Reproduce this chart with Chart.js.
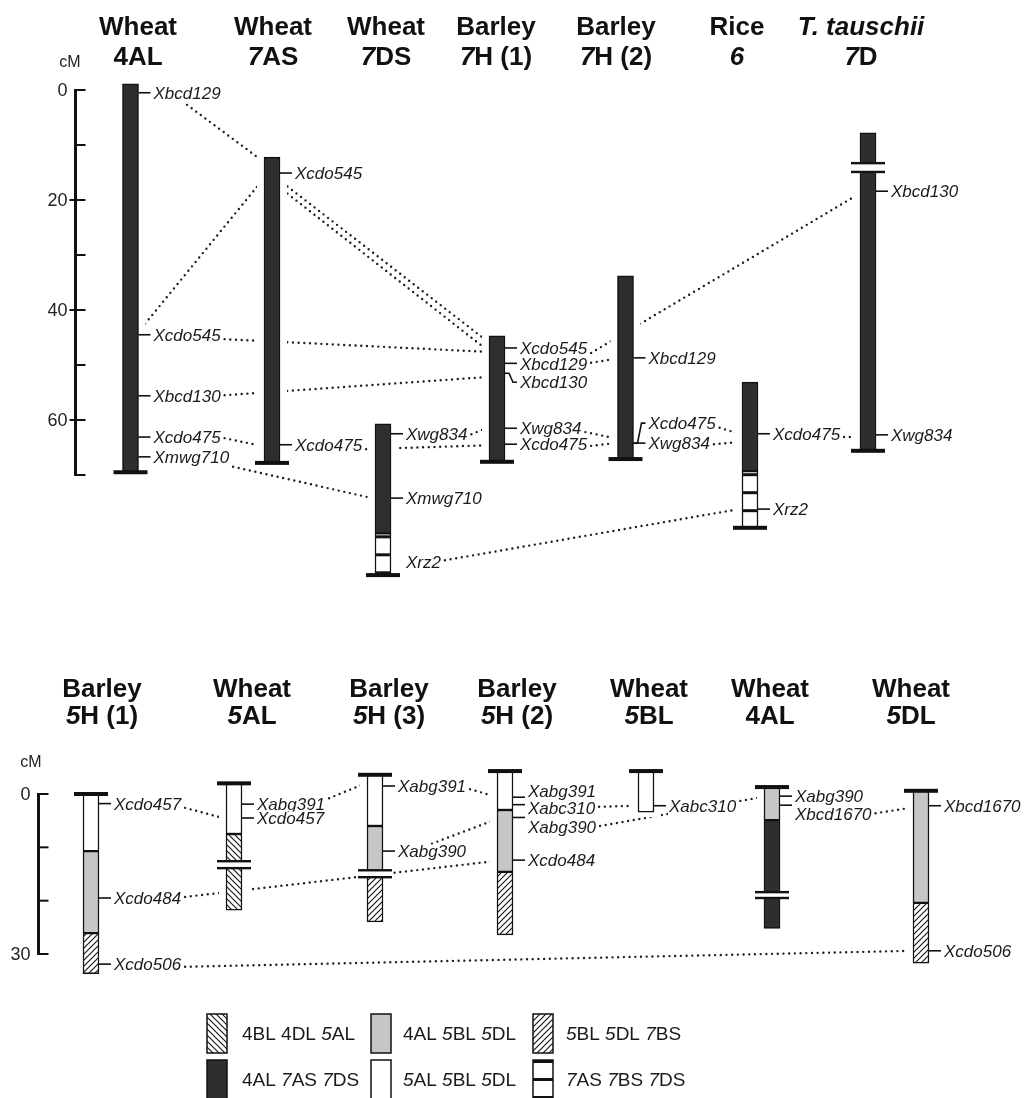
<!DOCTYPE html>
<html><head><meta charset="utf-8">
<script src="https://cdn.jsdelivr.net/npm/chart.js@4.4.1/dist/chart.umd.min.js"></script>
<style>html,body{margin:0;padding:0;background:#fff;overflow:hidden}#wrap{position:relative;width:1027px;height:1098px}</style>
</head><body><div id="wrap"><canvas id="c"></canvas></div>
<script>
// ================= DATA =================
const topTitles1 = ['Wheat','Wheat','Wheat','Barley','Barley','Rice','*T. tauschii*'];
const topTitles2 = ['4AL','*7*AS','*7*DS','*7*H (1)','*7*H (2)','*6*','*7*D'];
const botTitles1 = ['Barley','Wheat','Barley','Barley','Wheat','Wheat','Wheat'];
const botTitles2 = ['*5*H (1)','*5*AL','*5*H (3)','*5*H (2)','*5*BL','4AL','*5*DL'];

// segment types: D=4AL 7AS 7DS, G=4AL 5BL 5DL, W=5AL 5BL 5DL, B=4BL 4DL 5AL, F=5BL 5DL 7BS, S=7AS 7BS 7DS
const topSegments = [
  [[-1.1,69.5,'D']],
  [[12.2,67.8,'D']],
  [[60.7,80.6,'D'],[80.6,88.2,'S']],
  [[44.7,67.6,'D']],
  [[33.8,67.1,'D']],
  [[53.1,69.3,'D'],[69.3,79.6,'S']],
  [[7.8,65.6,'D']]
];
const botSegments = [
  [[0,10.7,'W'],[10.7,26.1,'G'],[26.1,33.7,'F']],
  [[-2.0,7.5,'W'],[7.5,21.8,'B']],
  [[-3.6,6.0,'W'],[6.0,15.0,'G'],[15.0,24.0,'F']],
  [[-4.3,3.0,'W'],[3.0,14.6,'G'],[14.6,26.4,'F']],
  [[-4.3,3.4,'W']],
  [[-1.3,4.9,'G'],[4.9,25.2,'D']],
  [[-0.6,20.4,'G'],[20.4,31.7,'F']]
];
const topBreaks = [null,null,null,null,null,null,[13.3,14.9]];
const botBreaks = [null,[12.6,13.9],[14.3,15.6],null,null,[18.4,19.5],null];

const topMarkerNames = [
  ['Xbcd129','Xcdo545','Xbcd130','Xcdo475','Xmwg710'],
  ['Xcdo545','Xcdo475'],
  ['Xwg834','Xmwg710','Xrz2'],
  ['Xcdo545','Xbcd129','Xbcd130','Xwg834','Xcdo475'],
  ['Xbcd129','Xcdo475','Xwg834'],
  ['Xcdo475','Xrz2'],
  ['Xbcd130','Xwg834']
];
const topMarkerCM = [
  [0.5,44.5,55.6,63.1,66.7],
  [15.1,64.5],
  [62.5,74.2,85.8],
  [46.9,49.7,51.5,61.5,64.4],
  [48.7,64.2,64.2],
  [62.5,76.2],
  [18.4,62.7]
];
const botMarkerNames = [
  ['Xcdo457','Xcdo484','Xcdo506'],
  ['Xabg391','Xcdo457'],
  ['Xabg391','Xabg390'],
  ['Xabg391','Xabc310','Xabg390','Xcdo484'],
  ['Xabc310'],
  ['Xabg390','Xbcd1670'],
  ['Xbcd1670','Xcdo506']
];
const botMarkerCM = [
  [1.8,19.5,31.9],
  [1.9,4.5],
  [-1.5,10.7],
  [0.6,2.0,4.4,12.4],
  [2.2],
  [0.4,2.1],
  [2.2,29.4]
];

// links: [fromChrom, fromMarker, fromCM, attach, toChrom, toCM]
const topLinks = [
  [0,'Xbcd129',2.7,'mid',1,12.7],
  [0,'',43.3,'right',1,16.7],
  [1,'',16.9,'right',3,45.5],
  [1,'',18.2,'right',3,47.1],
  [0,'Xcdo545',45.3,'label',3,47.6],
  [0,'Xbcd130',55.5,'label',3,52.2],
  [0,'Xcdo475',63.3,'label',1,64.7],
  [1,'Xcdo475',65.3,'label',3,64.6],
  [2,'Xwg834',62.6,'label',3,61.5],
  [0,'Xmwg710',68.5,'label',2,74.2],
  [2,'Xrz2',85.5,'label',5,76.2],
  [3,'Xcdo545',47.8,'label',6,19.1],
  [3,'Xbcd129',49.6,'label',4,48.9],
  [3,'Xwg834',62.2,'label',4,63.3],
  [3,'Xcdo475',64.7,'label',4,64.2],
  [4,'Xcdo475',61.4,'label',5,62.5],
  [4,'Xwg834',64.4,'label',5,64.0],
  [5,'Xcdo475',63.1,'label',6,63.1]
];
const botLinks = [
  [0,'Xcdo457',2.6,'label',1,4.5],
  [0,'Xcdo484',19.3,'label',3,12.6],
  [1,'Xabg391',0.8,'label',2,-1.9],
  [2,'Xabg391',-0.9,'label',3,0.4],
  [2,'Xabg390',9.3,'mid',3,4.9],
  [3,'Xabc310',2.4,'label',4,2.2],
  [3,'Xabg390',6.0,'label',5,0.6],
  [5,'Xbcd1670',3.6,'label',6,2.6],
  [0,'Xcdo506',32.4,'label',6,29.4]
];

const topAxisLabels = [0,20,40,60];
const botAxisLabels = [0,30];
const legendTypes = ['B','G','F','D','W','S'];
const legendLabels = ['4BL 4DL *5*AL','4AL *5*BL *5*DL','*5*BL *5*DL *7*BS','4AL *7*AS *7*DS','*5*AL *5*BL *5*DL','*7*AS *7*BS *7*DS'];

// ================= LAYOUT / STYLE =================
const W = 1027, H = 1098;
const FAM = '"Liberation Sans", Arial, Helvetica, sans-serif';
const LAYOUT = {
  top: {axis:'yTop', zero:90, ppc:5.5, x:[130.5,272,383,497,625.5,750,868],
        titleX:[138,273,386,496,616,737,861], titleY:[35,65], cap:'end',
        axisX:75.5, axisMax:70, majorLeft:true, cmXY:[70,63], t1:topTitles1, t2:topTitles2,
        segs:topSegments, breaks:topBreaks, names:topMarkerNames, cms:topMarkerCM, links:topLinks, axisLabels:topAxisLabels},
  bot: {axis:'yBot', zero:794, ppc:160/30, x:[91,234,375,505,646,772,921],
        titleX:[102,252,389,517,649,770,911], titleY:[697,724], cap:'start',
        axisX:38.5, axisMax:30, majorLeft:false, cmXY:[31,763], t1:botTitles1, t2:botTitles2,
        segs:botSegments, breaks:botBreaks, names:botMarkerNames, cms:botMarkerCM, links:botLinks, axisLabels:botAxisLabels}
};
const HALF = 8, TICK_END = 20, LABEL_OFF = 23;
const labelShift = {'top-3-Xbcd130':9,'top-4-Xcdo475':-20,'bot-3-Xabg391':-6,'bot-3-Xabc310':3,'bot-3-Xabg390':9,'bot-5-Xbcd1670':9};
const bentTicks = {'top-3-Xbcd130':1,'top-4-Xcdo475':1};
const hiddenTicks = {'top-2-Xrz2':1};
const LEG = {boxX:[207,371,533], textX:[242,403,566], rowY:[1014,1060], boxW:20, boxH:39};

// ================= HELPERS =================
const canvas = document.getElementById('c');
const mainCtx = canvas.getContext('2d');
const LABEL_FONT = 'italic 17px ' + FAM;
function measure(t){ mainCtx.save(); mainCtx.font = LABEL_FONT; const w = mainCtx.measureText(t).width; mainCtx.restore(); return w; }

function hatch(dir){
  const c = document.createElement('canvas'); c.width = 6; c.height = 6;
  const g = c.getContext('2d');
  g.fillStyle = '#fff'; g.fillRect(0,0,6,6);
  g.strokeStyle = '#1a1a1a'; g.lineWidth = 1.2; g.beginPath();
  if (dir === 'F') { g.moveTo(-1,7); g.lineTo(7,-1); g.moveTo(-1,1); g.lineTo(1,-1); g.moveTo(5,7); g.lineTo(7,5); }
  else { g.moveTo(-1,-1); g.lineTo(7,7); g.moveTo(5,-1); g.lineTo(7,1); g.moveTo(-1,5); g.lineTo(1,7); }
  g.stroke();
  return mainCtx.createPattern(c,'repeat');
}
function stripe(){
  const c = document.createElement('canvas'); c.width = 20; c.height = 18;
  const g = c.getContext('2d');
  g.fillStyle = '#fff'; g.fillRect(0,0,20,18);
  g.fillStyle = '#111'; g.fillRect(0,2,20,3);
  return mainCtx.createPattern(c,'repeat');
}
const hatchF = hatch('F'), hatchB = hatch('B');
const stripeRefs = [];
function fillFor(t, panel, startCM){
  if (t === 'D') return '#2e2e2e';
  if (t === 'G') return '#c6c6c6';
  if (t === 'W') return '#ffffff';
  if (t === 'F') return hatchF;
  if (t === 'B') return hatchB;
  const p = stripe(); stripeRefs.push({pat:p, panel, v:startCM}); return p;
}
function parseRich(s){ const out=[]; s.split('*').forEach((p,i)=>{ if(p) out.push({t:p, it:i%2===1}); }); return out; }
function richWidth(ctx, s, size, weight){ let w=0; parseRich(s).forEach(p=>{ ctx.font=(p.it?'italic ':'')+weight+' '+size+'px '+FAM; w+=ctx.measureText(p.t).width; }); return w; }
function drawRich(ctx, s, x, y, size, weight, align){
  let cx = align === 'center' ? x - richWidth(ctx,s,size,weight)/2 : x;
  ctx.textAlign = 'left';
  parseRich(s).forEach(p=>{ ctx.font=(p.it?'italic ':'')+weight+' '+size+'px '+FAM; ctx.fillText(p.t,cx,y); cx+=ctx.measureText(p.t).width; });
}
function attachX(P, ci, marker, mode){
  const cx = P.x[ci];
  if (mode === 'left') return cx - HALF - 3;
  if (mode === 'right') return cx + HALF + 3;
  const lx = cx + LABEL_OFF, w = measure(marker);
  return mode === 'mid' ? lx + w/2 : lx + w + 4;
}

// ================= DATASETS =================
const datasets = [];
['top','bot'].forEach(key=>{
  const P = LAYOUT[key];
  P.links.forEach(l=>{
    datasets.push({type:'line', label:'link-'+key, yAxisID:P.axis, xAxisID:'x', order:2,
      data:[{x:attachX(P,l[0],l[1],l[3]), y:l[2]}, {x:attachX(P,l[4],'','left'), y:l[5]}],
      borderColor:'#1f1f1f', borderWidth:2.4, borderDash:[0,5.7], borderCapStyle:'round',
      pointRadius:0, fill:false, tension:0});
  });
});
['top','bot'].forEach(key=>{
  const P = LAYOUT[key]; const data=[], bg=[];
  P.segs.forEach((list,ci)=>list.forEach(s=>{ data.push({x:P.x[ci], y:[s[0],s[1]]}); bg.push(fillFor(s[2], key, s[0])); }));
  datasets.push({type:'bar', label:'bars-'+key, yAxisID:P.axis, xAxisID:'x', order:1, data,
    backgroundColor:bg, borderColor:'#111', borderWidth:1.5, borderSkipped:false, barThickness:16, grouped:false});
});

// ================= DRAW PLUGIN =================
const mapPlugin = {
  id:'maps',
  beforeDatasetDraw(chart, args){
    const ds = chart.data.datasets[args.index];
    if (!ds.label.startsWith('bars-')) return;
    const key = ds.label.slice(5), P = LAYOUT[key];
    const ys = chart.scales[P.axis], xs = chart.scales.x, ctx = chart.ctx;
    stripeRefs.filter(s=>s.panel===key).forEach(s=>{ s.pat.setTransform(new DOMMatrix().translate(0, ys.getPixelForValue(s.v))); });
    ctx.save(); ctx.fillStyle = '#fff';
    P.segs.forEach((list,ci)=>{
      const a = Math.min(...list.map(s=>s[0])), b = Math.max(...list.map(s=>s[1]));
      const cx = xs.getPixelForValue(P.x[ci]);
      const y1 = ys.getPixelForValue(a), y2 = ys.getPixelForValue(b);
      ctx.fillRect(cx-15, y1-5, 30, y2-y1+10);
    });
    ctx.restore();
  },
  afterDatasetsDraw(chart){
    const ctx = chart.ctx, xs = chart.scales.x;
    ['top','bot'].forEach(key=>{
      const P = LAYOUT[key], ys = chart.scales[P.axis];
      P.segs.forEach((list,ci)=>{
        const cx = xs.getPixelForValue(P.x[ci]);
        const br = P.breaks[ci];
        if (br){
          const b0 = ys.getPixelForValue(br[0]), b1 = ys.getPixelForValue(br[1]);
          ctx.fillStyle = '#fff'; ctx.fillRect(cx-HALF-1, b0, 2*HALF+2, b1-b0);
          ctx.fillStyle = '#111'; ctx.fillRect(cx-17, b0-1.2, 34, 2.4); ctx.fillRect(cx-17, b1-1.2, 34, 2.4);
        }
        const v = P.cap === 'end' ? list[list.length-1][1] : list[0][0];
        const py = ys.getPixelForValue(v);
        ctx.fillStyle = '#111'; ctx.fillRect(cx-17, py-2, 34, 4);
        P.names[ci].forEach((name,mi)=>{
          const k = key+'-'+ci+'-'+name;
          const y = ys.getPixelForValue(P.cms[ci][mi]);
          const dy = labelShift[k] || 0;
          ctx.strokeStyle = '#111'; ctx.lineWidth = 1.6;
          if (!hiddenTicks[k]){
            ctx.beginPath();
            if (bentTicks[k]){ ctx.moveTo(cx+HALF, y); ctx.lineTo(cx+HALF+4, y); ctx.lineTo(cx+HALF+8, y+dy); ctx.lineTo(cx+TICK_END, y+dy); }
            else { ctx.moveTo(cx+HALF, y); ctx.lineTo(cx+TICK_END, y); }
            ctx.stroke();
          }
          const tx = cx + LABEL_OFF, ty = y + dy + 1.5;
          ctx.font = LABEL_FONT; const w = ctx.measureText(name).width;
          ctx.fillStyle = '#fff'; ctx.fillRect(tx-1, ty-8, w+2, 16);
          ctx.fillStyle = '#1a1a1a'; ctx.textAlign = 'left'; ctx.textBaseline = 'middle';
          ctx.fillText(name, tx, ty);
        });
      });
    });
  },
  afterDraw(chart){
    const ctx = chart.ctx, xs = chart.scales.x;
    ctx.save();
    ['top','bot'].forEach(key=>{
      const P = LAYOUT[key], ys = chart.scales[P.axis];
      ctx.fillStyle = '#111'; ctx.textBaseline = 'alphabetic';
      P.t1.forEach((t,i)=>{ drawRich(ctx, t, xs.getPixelForValue(P.titleX[i]), P.titleY[0], 26, 'bold', 'center'); });
      P.t2.forEach((t,i)=>{ drawRich(ctx, t, xs.getPixelForValue(P.titleX[i]), P.titleY[1], 26, 'bold', 'center'); });
      const ax = xs.getPixelForValue(P.axisX);
      const y0 = ys.getPixelForValue(0), y1 = ys.getPixelForValue(P.axisMax);
      ctx.strokeStyle = '#111'; ctx.lineCap = 'butt';
      ctx.lineWidth = 3; ctx.beginPath(); ctx.moveTo(ax, y0-1); ctx.lineTo(ax, y1+1); ctx.stroke();
      ctx.lineWidth = 2;
      for (let v = 0; v <= P.axisMax; v += 10){
        const y = ys.getPixelForValue(v);
        ctx.beginPath(); ctx.moveTo(ax-1.5, y); ctx.lineTo(ax+10, y); ctx.stroke();
        if (P.majorLeft && v > 0 && v < P.axisMax && v % 20 === 0){ ctx.beginPath(); ctx.moveTo(ax-6, y); ctx.lineTo(ax, y); ctx.stroke(); }
      }
      ctx.fillStyle = '#222'; ctx.font = '18px ' + FAM; ctx.textAlign = 'right'; ctx.textBaseline = 'middle';
      P.axisLabels.forEach(v=>{ ctx.fillText(String(v), ax-8, ys.getPixelForValue(v)+1); });
      ctx.font = '16px ' + FAM; ctx.textAlign = 'center';
      ctx.fillText('cM', xs.getPixelForValue(P.cmXY[0]), P.cmXY[1]);
    });
    legendTypes.forEach((t,i)=>{
      const col = i % 3, row = Math.floor(i/3);
      const bx = LEG.boxX[col], by = LEG.rowY[row];
      let f;
      if (t === 'S'){ f = stripe(); f.setTransform(new DOMMatrix().translate(0, by-2)); }
      else f = t==='D' ? '#2e2e2e' : t==='G' ? '#c6c6c6' : t==='W' ? '#fff' : t==='F' ? hatchF : hatchB;
      ctx.fillStyle = f; ctx.fillRect(bx, by, LEG.boxW, LEG.boxH);
      ctx.strokeStyle = '#111'; ctx.lineWidth = 1.5; ctx.strokeRect(bx, by, LEG.boxW, LEG.boxH);
      ctx.fillStyle = '#1a1a1a'; ctx.textBaseline = 'middle';
      drawRich(ctx, legendLabels[i], LEG.textX[col], by + LEG.boxH/2 + 1, 19, 'normal', 'left');
    });
    ctx.restore();
  }
};

// ================= CHART =================
const yRange = P => ({min: -P.zero/P.ppc, max: (H - P.zero)/P.ppc});
new Chart(canvas, {
  type:'bar',
  data:{datasets},
  options:{
    responsive:true, maintainAspectRatio:false, animation:false, events:[],
    layout:{padding:0},
    plugins:{legend:{display:false}, tooltip:{enabled:false}, title:{display:false}},
    scales:{
      x:{type:'linear', display:false, offset:false, grid:{offset:false}, min:0, max:W},
      yTop:{type:'linear', display:false, reverse:true, ...yRange(LAYOUT.top)},
      yBot:{type:'linear', display:false, reverse:true, ...yRange(LAYOUT.bot)}
    }
  },
  plugins:[mapPlugin]
});
</script>
</body></html>
